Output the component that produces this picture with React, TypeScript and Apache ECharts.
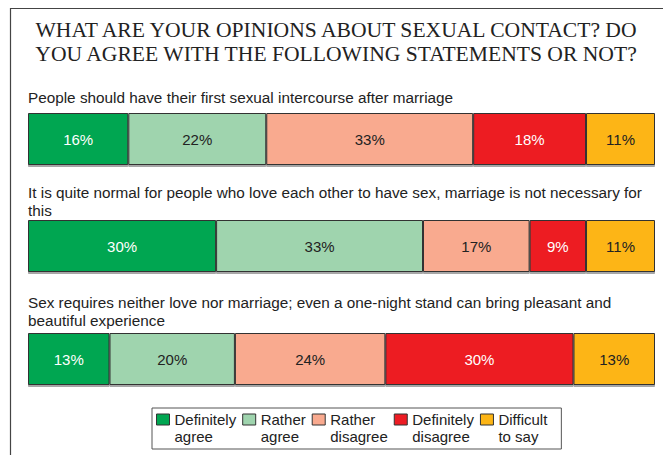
import React, { useEffect, useRef } from "react";
import * as echarts from "echarts";

const titleText = "WHAT ARE YOUR OPINIONS ABOUT SEXUAL CONTACT? DO\nYOU AGREE WITH THE FOLLOWING STATEMENTS OR NOT?";
const statements = [
  "People should have their first sexual intercourse after marriage",
  "It is quite normal for people who love each other to have sex, marriage is not necessary for\nthis",
  "Sex requires neither love nor marriage; even a one-night stand can bring pleasant and\nbeautiful experience",
];
const categories = ["Definitely agree", "Rather agree", "Rather disagree", "Definitely disagree", "Difficult to say"];
const legendLines = [
  ["Definitely", "agree"],
  ["Rather", "agree"],
  ["Rather", "disagree"],
  ["Definitely", "disagree"],
  ["Difficult", "to say"],
];
const values = [
  [16, 22, 33, 18, 11],
  [30, 33, 17, 9, 11],
  [13, 20, 24, 30, 13],
];

const colors = ["#00A651", "#9FD4AE", "#F9AA8F", "#ED1C24", "#FDB515"];
const labelColors = ["#ffffff", "#222222", "#222222", "#ffffff", "#222222"];
const gridTops = [113, 220, 333];
const subTops = [88, 183, 293];
const FONT = "Liberation Sans, Arial, sans-serif";

export default function App() {
  const ref = useRef<HTMLDivElement>(null);
  useEffect(() => {
    if (!ref.current) return;
    const chart = echarts.init(ref.current, undefined, { renderer: "svg" });
    const series: any[] = [];
    values.forEach((row, r) => {
      row.forEach((v, c) => {
        series.push({
          type: "bar",
          name: categories[c],
          stack: "row" + r,
          xAxisIndex: r,
          yAxisIndex: r,
          data: [v],
          barWidth: 52,
          itemStyle: {
            color: colors[c],
            borderColor: "#333",
            borderWidth: 1,
            shadowColor: "rgba(0,0,0,0.35)",
            shadowOffsetY: 2,
            shadowBlur: 1,
          },
          label: {
            show: true,
            position: "inside",
            formatter: "{c}%",
            fontSize: 15,
            fontFamily: FONT,
            color: labelColors[c],
          },
        });
      });
    });
    chart.setOption({
      animation: false,
      backgroundColor: "#ffffff",
      graphic: [
        {
          type: "rect",
          z: -10,
          shape: { x: 10.5, y: 8.5, width: 700, height: 500 },
          style: { fill: "none", stroke: "#444", lineWidth: 1.2 },
        },
      ],
      title: [
        {
          text: titleText,
          left: 336,
          textAlign: "center",
          top: 18,
          padding: 0,
          textStyle: { fontFamily: "Liberation Serif, Times New Roman, serif", fontSize: 21.6, fontWeight: "normal", color: "#222", lineHeight: 24 },
        },
        ...statements.map((s, i) => ({
          text: s,
          left: 28,
          top: subTops[i],
          padding: 0,
          textStyle: { fontFamily: FONT, fontSize: 15.3, fontWeight: "normal", color: "#222", lineHeight: 18 },
        })),
      ],
      grid: gridTops.map((t) => ({ left: 28, right: 8, top: t, height: 52 })),
      xAxis: gridTops.map((_, i) => ({ type: "value", min: 0, max: 100, gridIndex: i, show: false })),
      yAxis: gridTops.map((_, i) => ({ type: "category", data: [""], gridIndex: i, show: false })),
      legend: {
        data: categories.map((c) => ({ name: c, icon: "rect" })),
        left: 152,
        top: 408,
        width: 440,
        padding: [4, 14, 5, 4],
        itemGap: 6,
        itemWidth: 13,
        itemHeight: 11,
        itemStyle: { borderColor: "#333", borderWidth: 1 },
        borderColor: "#555",
        borderWidth: 1,
        backgroundColor: "#fff",
        selectedMode: false,
        formatter: (name: string) => {
          const i = categories.indexOf(name);
          return `{t|${legendLines[i][0]}}\n{t|${legendLines[i][1]}}`;
        },
        textStyle: {
          fontFamily: FONT,
          fontSize: 15,
          color: "#222",
          padding: [17, 0, 0, 0],
          rich: { t: { fontFamily: FONT, fontSize: 15, color: "#222", lineHeight: 17 } },
        },
      },
      series,
    });
    return () => chart.dispose();
  }, []);
  return <div ref={ref} style={{ position: "fixed", left: 0, top: 0, width: 663, height: 455 }} />;
}
